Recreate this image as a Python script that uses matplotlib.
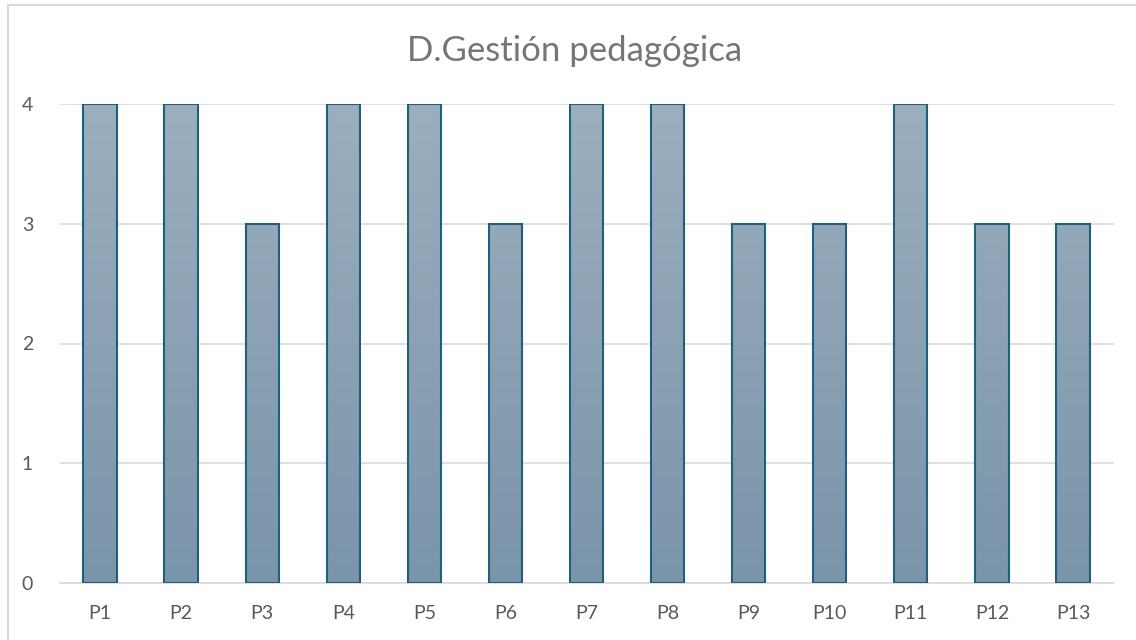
import matplotlib
matplotlib.use("Agg")
import matplotlib.pyplot as plt
import numpy as np
from matplotlib.colors import LinearSegmentedColormap
from matplotlib.patches import Rectangle

categories = ["P1", "P2", "P3", "P4", "P5", "P6", "P7", "P8", "P9", "P10", "P11", "P12", "P13"]
values = [4, 4, 3, 4, 4, 3, 4, 4, 3, 3, 4, 3, 3]
title = "D.Gestión pedagógica"
yticks = [0, 1, 2, 3, 4]

plt.rcParams['font.family'] = ['Lato', 'DejaVu Sans']

fig = plt.figure(figsize=(11.36, 6.4), dpi=100)
fig.patch.set_facecolor("white")
# outer chart border
fig.add_artist(Rectangle((7.5/1136, -0.1), 1.2, 1.1 - 5.5/640, transform=fig.transFigure,
                         fill=False, edgecolor="#D9D9D9", linewidth=1.5))

ax = fig.add_axes([59.5/1136, 1-583/640, (1113.5-59.5)/1136, (583-104)/640])
x = np.arange(len(categories))
bars = ax.bar(x, values, width=0.41, color="none", edgecolor="#1F5F7F", linewidth=1.5, zorder=3)

cmap = LinearSegmentedColormap.from_list("g", ["#7A94AA", "#9CAFBE"])
grad = np.linspace(0, 1, 256).reshape(-1, 1)
for b in bars:
    x0, y0, w, h = b.get_x(), b.get_y(), b.get_width(), b.get_height()
    im = ax.imshow(grad, extent=[x0, x0 + w, 0, 4], origin="lower", cmap=cmap,
                   aspect="auto", zorder=2)
    im.set_clip_path(b)

ax.set_xlim(-0.5, len(categories) - 0.5)
ax.set_ylim(0, 4)
ax.set_yticks(yticks)
ax.set_xticks(x)
ax.set_xticklabels(categories)
ax.yaxis.grid(True, color="#D9D9D9", linewidth=1.2, zorder=0)
ax.set_axisbelow(True)
for s in ["top", "right", "left"]:
    ax.spines[s].set_visible(False)
ax.spines["bottom"].set_color("#D9D9D9")
ax.spines["bottom"].set_linewidth(1.2)
ax.tick_params(axis="both", length=0, labelsize=14, colors="#595959")
ax.tick_params(axis="x", pad=16)
ax.tick_params(axis="y", pad=19)

fig.text(575/1136, 1-51/640, title, ha="center", va="center", fontsize=25, color="#757575")

fig.savefig("out.png", dpi=100, facecolor="white")
